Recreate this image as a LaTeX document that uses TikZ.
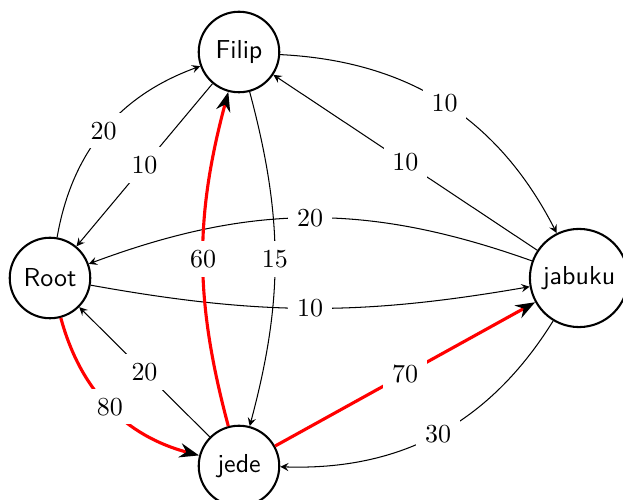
\documentclass[tikz,border=0pt]{standalone}
\usetikzlibrary{arrows,arrows.meta}
\begin{document}
\begin{tikzpicture}[x=0.385pt,y=0.385pt,>=stealth,
  state/.style={circle,draw,thick,minimum size=31pt,font=\sffamily},
  weight/.style={fill=white},
  hot/.style={draw=red,very thick,-{Stealth[length=7.5pt,width=5.5pt,black]}}]
  \useasboundingbox (0,0) rectangle (623,500);
  \node[state] (Filip) at (239,448) {Filip};
  \node[state] (Root) at (50,222) {Root};
  \node[state] (jabuku) at (579,222) {jabuku};
  \node[state] (jede) at (239,34) {jede};

  \path[->]
    (Root) edge[bend left=30] node[weight] {20} (Filip)
    (Filip) edge node[weight] {10} (Root)
    (Filip) edge[bend left=30] node[weight] {10} (jabuku)
    (jabuku) edge node[weight] {10} (Filip)
    (jabuku) edge[bend right=20] node[weight] {20} (Root)
    (Root) edge[bend right=10] node[weight] {10} (jabuku)
    (Filip) edge[bend left=15] node[weight] {15} (jede)
    (jede) edge node[weight] {20} (Root)
    (jabuku) edge[bend left=30] node[weight] {30} (jede);
  \path[hot]
    (jede) edge[bend left=15] node[weight] {60} (Filip)
    (Root) edge[bend right=30] node[weight] {80} (jede)
    (jede) edge node[weight] {70} (jabuku);
\end{tikzpicture}
\end{document}
